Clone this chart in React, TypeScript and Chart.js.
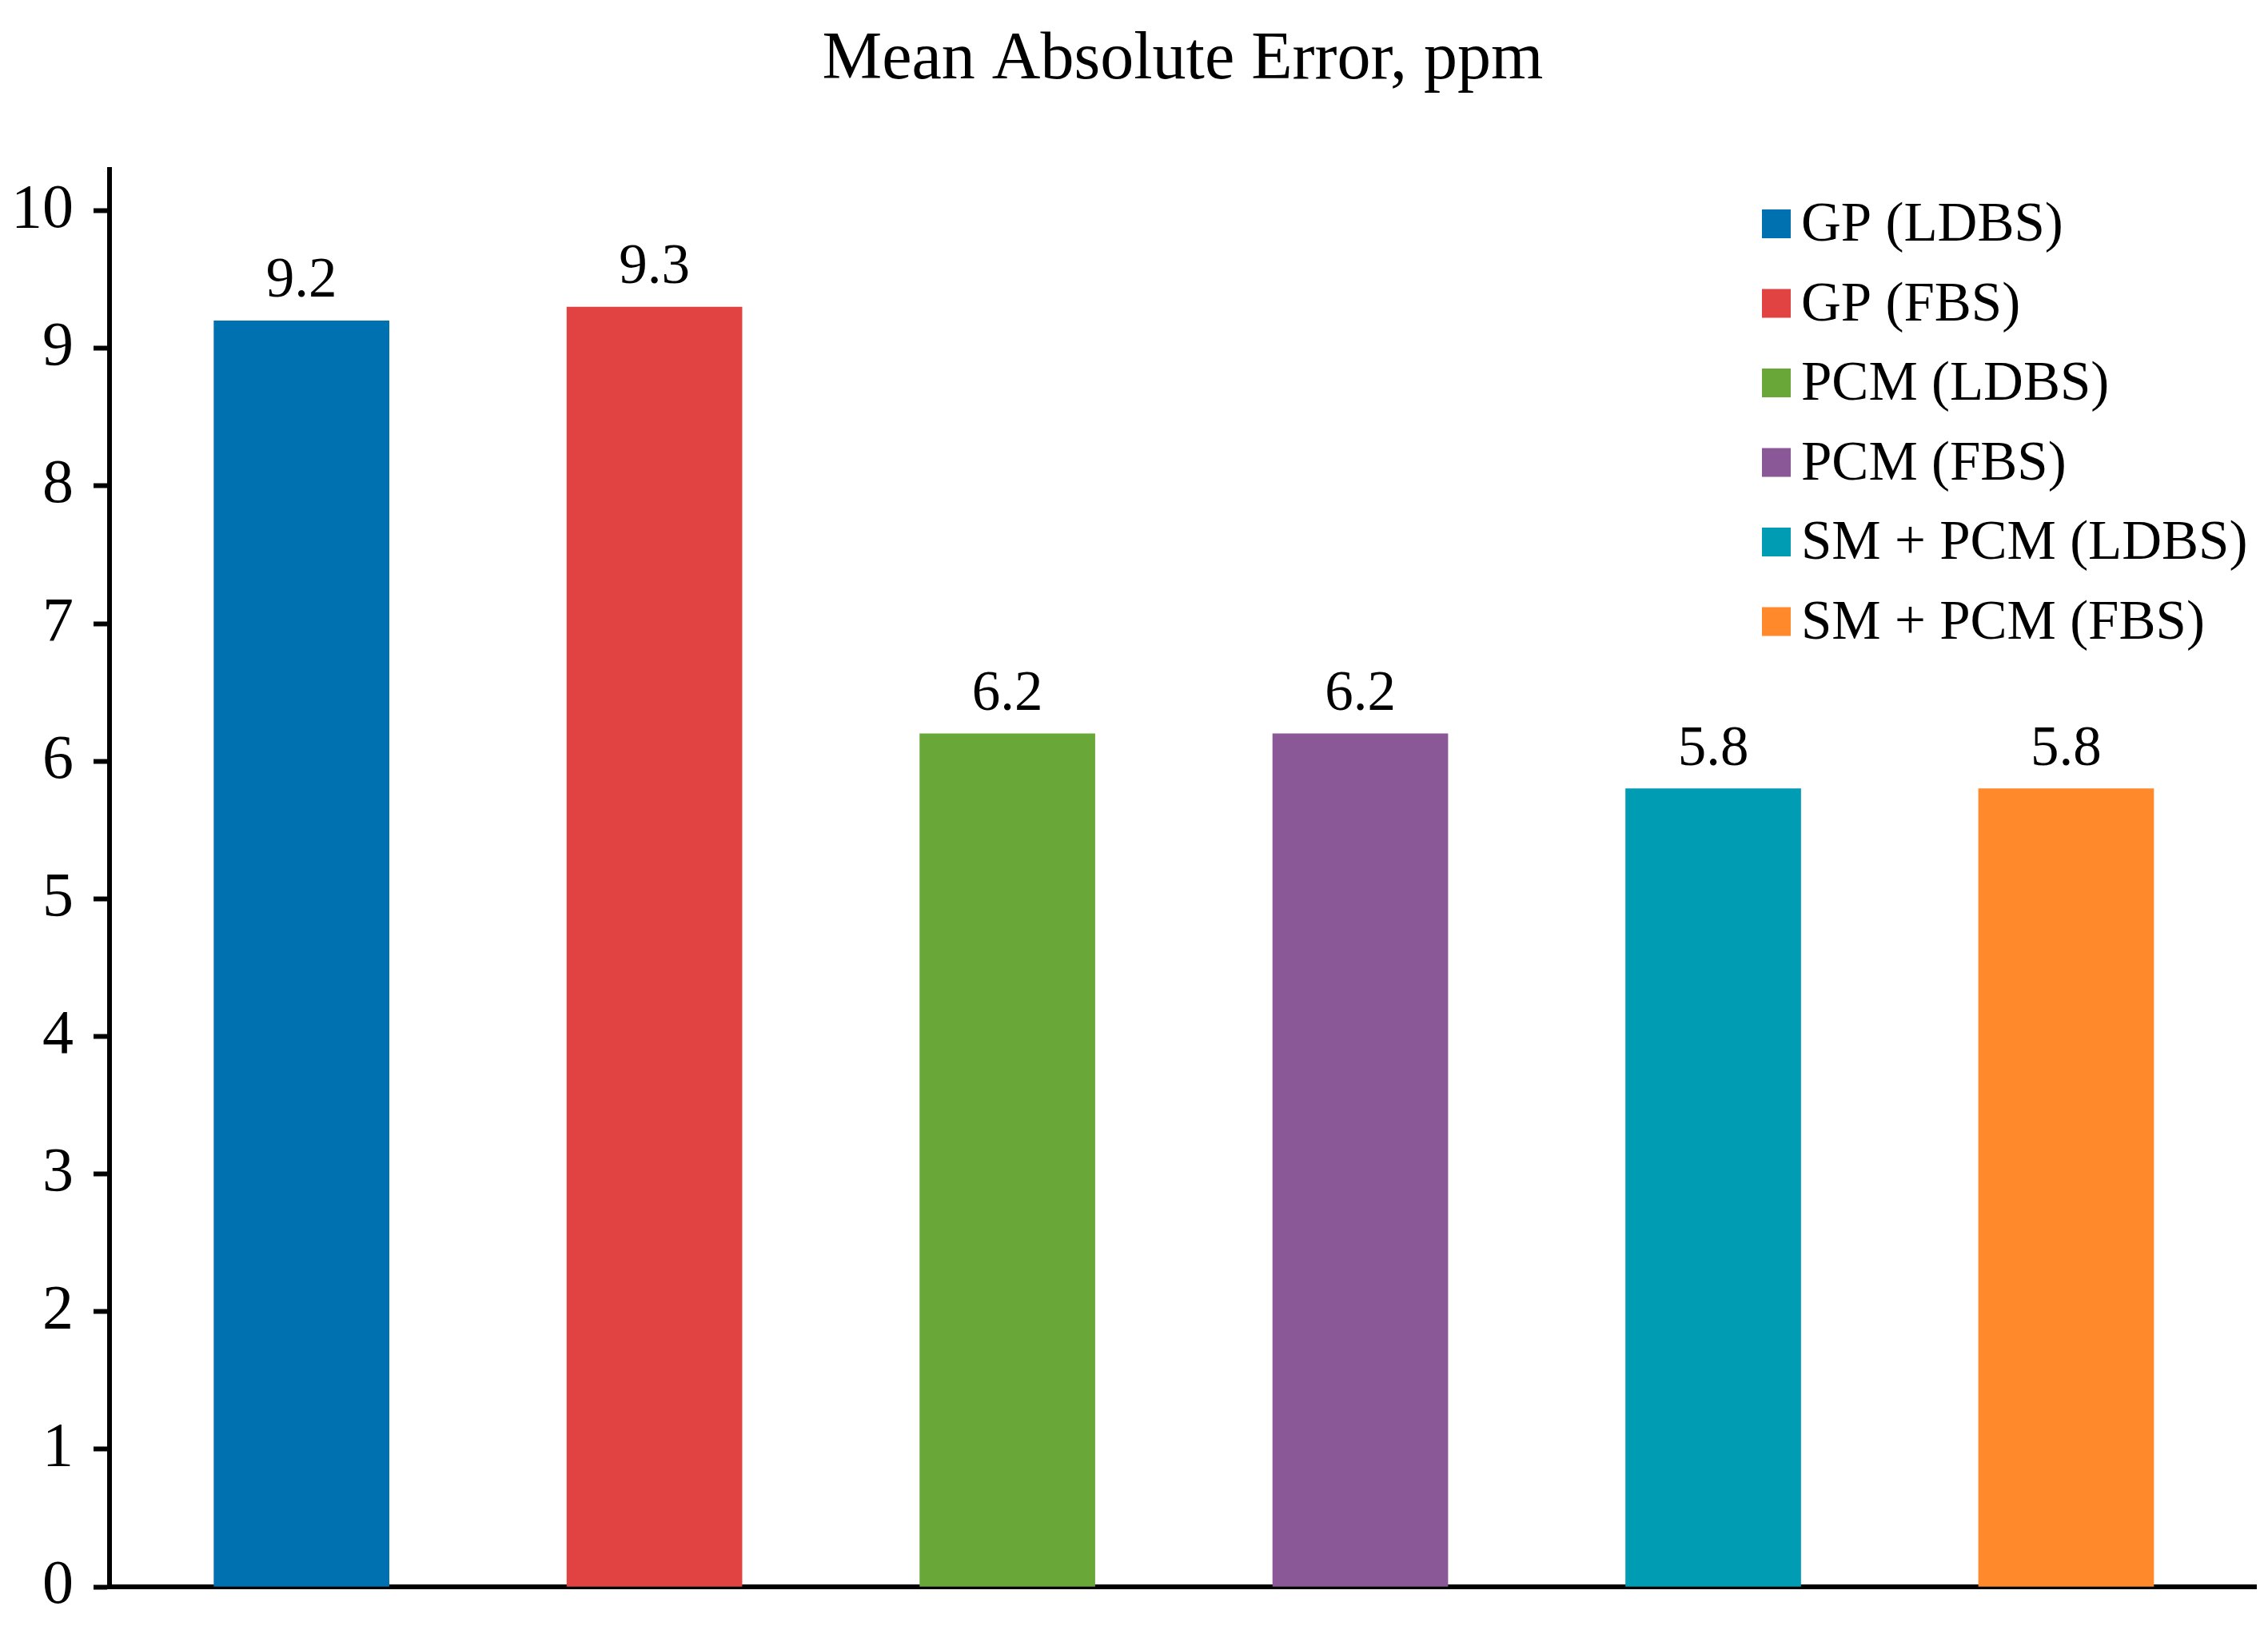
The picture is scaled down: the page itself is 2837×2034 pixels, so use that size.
import { useEffect, useRef } from 'react';
import { Chart, registerables } from 'chart.js';

Chart.register(...registerables);

const TITLE = 'Mean Absolute Error, ppm';

const methods = [
  'GP (LDBS)',
  'GP (FBS)',
  'PCM (LDBS)',
  'PCM (FBS)',
  'SM + PCM (LDBS)',
  'SM + PCM (FBS)'
];

const maeValues = [9.2, 9.3, 6.2, 6.2, 5.8, 5.8];

const barColors = ['#0071B0', '#E04341', '#69A738', '#8A5897', '#009CB4', '#FF892B'];

const yTicks = [0, 1, 2, 3, 4, 5, 6, 7, 8, 9, 10];

// x runs over category index; the axis spills a little past the outer bars
const X_MIN = -0.544;
const X_MAX = 5.538;

const SERIF = '"Liberation Serif", "Times New Roman", serif';

// title, value labels and the in-plot legend
const decorPlugin = {
  id: 'decor',
  afterDatasetsDraw(chart: any) {
    const { ctx, chartArea } = chart;
    ctx.save();
    ctx.fillStyle = '#000';

    // title
    ctx.font = `84px ${SERIF}`;
    ctx.textAlign = 'center';
    ctx.textBaseline = 'alphabetic';
    ctx.fillText(TITLE, (chartArea.left + chartArea.right) / 2, 98);

    // value labels above bars
    const meta = chart.getDatasetMeta(0);
    ctx.font = `71px ${SERIF}`;
    meta.data.forEach((bar: any, i: number) => {
      ctx.fillText(maeValues[i].toFixed(1), bar.x, bar.y - 30);
    });

    // legend
    const boxLeft = chartArea.right - 618;
    ctx.font = `69px ${SERIF}`;
    ctx.textAlign = 'left';
    ctx.textBaseline = 'middle';
    methods.forEach((name, i) => {
      const cy = chartArea.top + 68 + i * 99.5;
      ctx.fillStyle = barColors[i];
      ctx.fillRect(boxLeft, cy - 18, 36, 36);
      ctx.fillStyle = '#000';
      ctx.fillText(name, boxLeft + 49, cy + 3);
    });
    ctx.restore();
  }
};

function MaeChart() {
  const canvasRef = useRef<HTMLCanvasElement>(null);
  const chartRef = useRef<Chart | null>(null);

  useEffect(() => {
    document.body.style.margin = '0';
    if (!canvasRef.current) return;
    chartRef.current = new Chart(canvasRef.current, {
      type: 'bar',
      data: {
        labels: methods,
        datasets: [{
          label: TITLE,
          data: maeValues.map((v, i) => ({ x: i, y: v })),
          backgroundColor: barColors,
          borderWidth: 0,
          barThickness: 219
        }]
      },
      options: {
        responsive: false,
        devicePixelRatio: 1,
        animation: false,
        layout: { padding: { top: 212, right: 15, bottom: 49, left: 0 } },
        plugins: {
          legend: { display: false },
          title: { display: false },
          tooltip: { enabled: false }
        },
        scales: {
          x: {
            type: 'linear',
            min: X_MIN,
            max: X_MAX,
            bounds: 'data',
            offset: false,
            grid: { display: false, drawTicks: false, offset: false },
            border: { display: true, color: '#000', width: 6 },
            ticks: { display: false, stepSize: 1, includeBounds: false }
          },
          y: {
            min: 0,
            max: 10.3,
            bounds: 'data',
            afterFit: (scale: any) => {
              scale.width = 137;
              scale.paddingTop = 0;
              scale.paddingBottom = 0;
            },
            afterBuildTicks: (scale: any) => {
              scale.ticks = yTicks.map(v => ({ value: v }));
            },
            grid: {
              display: true,
              drawOnChartArea: false,
              drawTicks: true,
              tickLength: 20,
              tickWidth: 6,
              tickColor: '#000'
            },
            border: { display: true, color: '#000', width: 6 },
            ticks: {
              stepSize: 1,
              includeBounds: false,
              padding: 25,
              color: '#000',
              font: { family: SERIF, size: 78 }
            }
          }
        }
      },
      plugins: [decorPlugin]
    });
    return () => {
      if (chartRef.current) {
        chartRef.current.destroy();
        chartRef.current = null;
      }
    };
  }, []);

  return (
    <div style={{ width: 2837, height: 2034, background: '#fff', overflow: 'hidden' }}>
      <canvas ref={canvasRef} width={2837} height={2034} />
    </div>
  );
}

export default function App() {
  return <MaeChart />;
}
